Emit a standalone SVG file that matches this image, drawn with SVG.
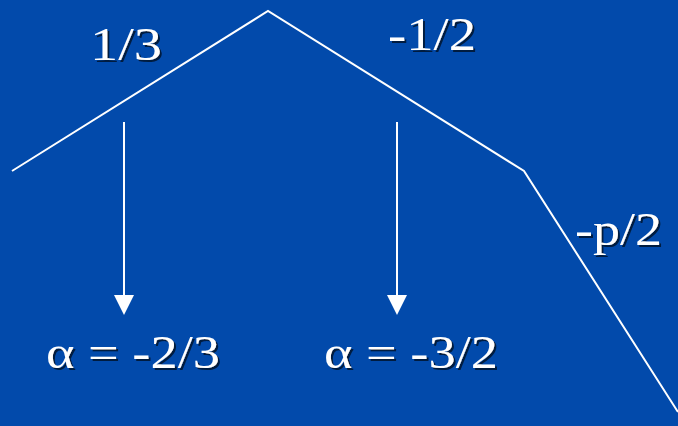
<svg xmlns="http://www.w3.org/2000/svg" width="678" height="426" viewBox="0 0 678 426">
<style>
.ln{fill:none;stroke:#fff;stroke-width:2}
</style>
<defs>
<filter id="sh" x="-10%" y="-10%" width="130%" height="130%">
<feDropShadow dx="2" dy="2" stdDeviation="0" flood-color="#001a40" flood-opacity="1"/>
</filter>
</defs>
<rect width="678" height="426" fill="#024AAB"/>
<g id="curve">
<polyline class="ln" points="12,171 268,11 524,171 678,412"/>
</g>
<g id="connectors">
<line class="ln" x1="124" y1="122" x2="124" y2="296"/>
<path d="M114,295 L134,295 L124,315 Z" fill="#fff"/>
<line class="ln" x1="397" y1="122" x2="397" y2="296"/>
<path d="M387,295 L407,295 L397,315 Z" fill="#fff"/>
</g>
<g font-family="Liberation Serif" font-size="46" fill="#fff" filter="url(#sh)">
<g id="label-13"><text x="90" y="60" textLength="72" lengthAdjust="spacingAndGlyphs">1/3</text></g>
<g id="label-12"><text x="388" y="50" textLength="88" lengthAdjust="spacingAndGlyphs">-1/2</text></g>
<g id="label-p2"><text x="575" y="245" textLength="87" lengthAdjust="spacingAndGlyphs">-p/2</text></g>
<g id="alpha1"><text x="46" y="368" textLength="174" lengthAdjust="spacingAndGlyphs">α = -2/3</text></g>
<g id="alpha2"><text x="324" y="368" textLength="174" lengthAdjust="spacingAndGlyphs">α = -3/2</text></g>
</g>
</svg>
